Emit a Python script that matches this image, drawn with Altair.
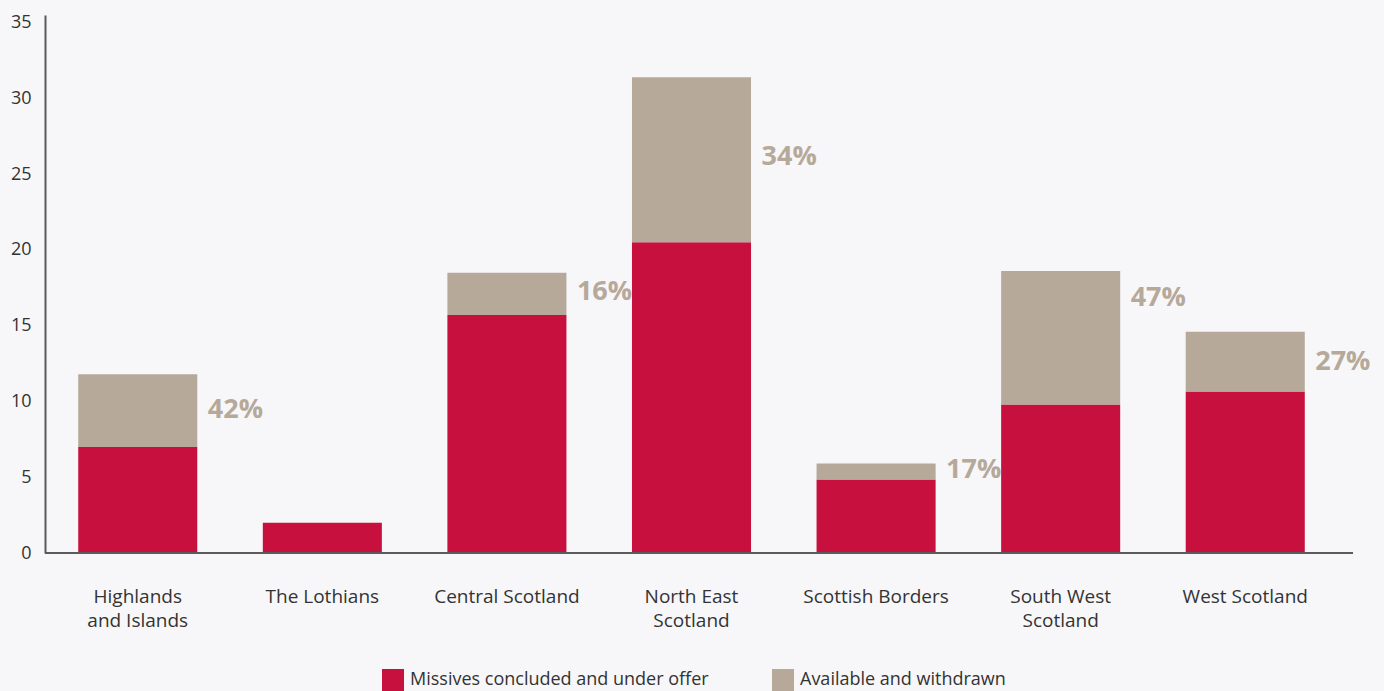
import altair as alt
import pandas as pd

regions = ["Highlands\nand Islands", "The Lothians", "Central Scotland", "North East\nScotland",
           "Scottish Borders", "South West\nScotland", "West Scotland"]
missives = [7.0, 2.0, 15.7, 20.5, 4.85, 9.8, 10.65]
available = [4.8, 0.0, 2.8, 10.9, 1.05, 8.8, 3.95]
pct_labels = ["42%", "", "16%", "34%", "17%", "47%", "27%"]
pct_label_y = [9.45, 0.0, 17.2, 26.1, 5.5, 16.8, 12.6]
series = ["Missives concluded and under offer", "Available and withdrawn"]
colors = ["#C8103E", "#B6A99A"]
y_ticks = [0, 5, 10, 15, 20, 25, 30, 35]

rows = []
for r, m, a in zip(regions, missives, available):
    rows.append({"region": r, "series": series[0], "value": m, "idx": 0})
    rows.append({"region": r, "series": series[1], "value": a, "idx": 1})
long_df = pd.DataFrame(rows)
wide_df = pd.DataFrame({"region": regions, "pct": pct_labels, "label_y": pct_label_y})

W, H = 1293, 538
FONT = "Open Sans"

x_scale = alt.Scale(domain=regions, paddingInner=0.355, paddingOuter=0.18)
y_scale = alt.Scale(domain=[0, 35.5], nice=False)

bars = alt.Chart(long_df).mark_bar().encode(
    x=alt.X("region:N", scale=x_scale, sort=regions,
            axis=alt.Axis(title=None, domain=False, ticks=False, labelAngle=0,
                          labelExpr="split(datum.label, '\\n')", labelPadding=34,
                          labelFontSize=19, labelColor="#333333", labelFont=FONT,
                          labelLineHeight=24, labelBaseline="top", labelLimit=0)),
    y=alt.Y("value:Q", stack="zero", scale=y_scale,
            axis=alt.Axis(title=None, values=y_ticks, grid=False, ticks=False,
                          domainColor="#5a5a5a", domainWidth=2, labelPadding=14,
                          labelFontSize=18, labelColor="#333333", labelFont=FONT)),
    color=alt.Color("series:N", scale=alt.Scale(domain=series, range=colors),
                    legend=alt.Legend(title=None, orient="none", direction="horizontal",
                                      legendX=337, legendY=654, symbolType="square",
                                      symbolSize=484, symbolStrokeWidth=0, symbolOpacity=1,
                                      labelFontSize=18, labelColor="#333333", labelFont=FONT,
                                      columnPadding=63, labelOffset=6, labelLimit=0)),
    order=alt.Order("idx:Q", sort="ascending"),
)

labels = alt.Chart(wide_df).mark_text(
    align="left", baseline="middle", dx=70, fontSize=27, fontWeight="bold",
    color="#B6A99A", font=FONT).encode(
    x=alt.X("region:N", scale=x_scale, sort=regions),
    y=alt.Y("label_y:Q", scale=y_scale),
    text="pct:N",
)

baseline = alt.Chart(wide_df).mark_rule(color="#5a5a5a", strokeWidth=2).encode(
    x=alt.value(0), x2=alt.value(W + 15), y=alt.value(H)
)

chart = alt.layer(bars, labels, baseline).properties(
    width=W, height=H,
    autosize=alt.AutoSizeParams(type="none"),
    padding={"left": 45, "top": 15, "right": 46, "bottom": 138},
    background="#F7F7F9",
).configure_view(stroke=None)

chart.save("out.html", embed_options={"renderer": "svg", "actions": False})
